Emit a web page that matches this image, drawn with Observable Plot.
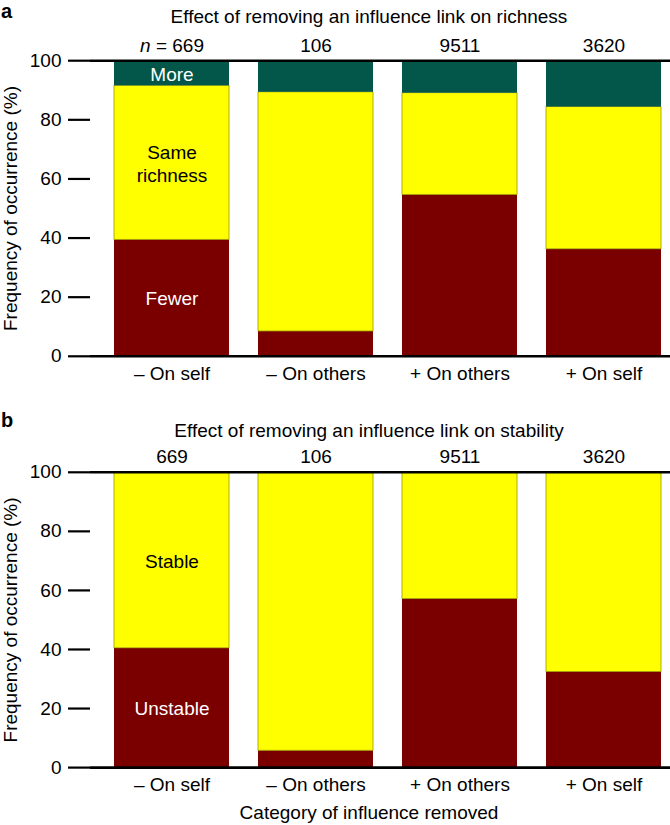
<!DOCTYPE html>
<html><head><meta charset="utf-8">
<script src="https://cdn.jsdelivr.net/npm/d3@7"></script>
<script src="https://cdn.jsdelivr.net/npm/@observablehq/plot@0.6"></script>
<style>
body{margin:0;background:#fff;font-family:"Liberation Sans",Arial,Helvetica,sans-serif;}
#fig{position:relative;width:670px;height:825px;overflow:hidden;background:#fff;}
.pl{position:absolute;left:0;}
.ttl{position:absolute;left:0;width:738px;text-align:center;font-size:19px;line-height:19px;white-space:nowrap;color:#000;}
.tag{position:absolute;left:1px;font-weight:bold;font-size:20px;line-height:1.15;color:#000;}
</style></head><body><div id="fig"></div>
<script>
// ---- data ----
const categories = ["\u2013 On self", "\u2013 On others", "+ On others", "+ On self"];
const nLabelsA = ["n = 669", "106", "9511", "3620"];
const nLabelsB = ["669", "106", "9511", "3620"];
const yTicks = [0, 20, 40, 60, 80, 100];

// panel a: effect on richness (%)
const segsA = ["Fewer", "Same", "More"];
const segTextA = ["Fewer", "Same\nrichness", "More"];
const fewerA = [39.4, 8.4, 54.6, 36.2];
const sameA  = [52.1, 80.9, 34.4, 48.1];
const moreA  = [8.5, 10.7, 11.0, 15.7];

// panel b: effect on stability (%)
const segsB = ["Unstable", "Stable"];
const segTextB = ["Unstable", "Stable"];
const unstableB = [40.4, 5.7, 57.1, 32.4];
const stableB   = [59.6, 94.3, 42.9, 67.6];

const titleA = "Effect of removing an influence link on richness";
const titleB = "Effect of removing an influence link on stability";
const yLabel = "Frequency of occurrence (%)";
const xLabel = "Category of influence removed";

// colours
const cRed = "#7a0000", cYellow = "#ffff00", cGreen = "#03574a";
const segText = {Fewer: "#fff", Same: "#000", More: "#fff", Unstable: "#fff", Stable: "#000"};

// ---- build tables ----
const seriesA = [fewerA, sameA, moreA];
const rowsA = categories.flatMap((c, i) => segsA.map((s, k) => ({cat: c, seg: s, value: seriesA[k][i], label: i === 0 ? segTextA[k] : ""})));
const seriesB = [unstableB, stableB];
const rowsB = categories.flatMap((c, i) => segsB.map((s, k) => ({cat: c, seg: s, value: seriesB[k][i], label: i === 0 ? segTextB[k] : ""})));

const font = "'Liberation Sans', Arial, Helvetica, sans-serif";

function panel(rows, segs, colors, nLabels, height, mTop, mBottom) {
  return Plot.plot({
    width: 670, height,
    marginLeft: 90, marginRight: 0, marginTop: mTop, marginBottom: mBottom,
    style: {fontFamily: font, fontSize: "19px", color: "#000", background: "transparent", overflow: "visible"},
    x: {domain: categories, paddingInner: 0.2, paddingOuter: 0.11, align: 0.725},
    y: {domain: [0, 100]},
    color: {domain: segs, range: colors},
    marks: [
      Plot.barY(rows, {x: "cat", y: "value", fill: "seg",
        stroke: "#9c9a00", strokeWidth: 0.8, strokeOpacity: d => d.seg === "Same" || d.seg === "Stable" ? 1 : 0}),
      Plot.text(rows, Plot.stackY({x: "cat", y: "value", text: "label", fill: d => segText[d.seg], lineHeight: 1.2, fontSize: 19})),
      Plot.ruleY([0, 100], {strokeWidth: 2.6, stroke: "#000"}),
      Plot.axisY({ticks: yTicks, tickSize: 22, tickPadding: 7, strokeWidth: 2.2,
        label: yLabel, labelAnchor: "center", labelArrow: "none", labelOffset: 87}),
      Plot.axisX({anchor: "bottom", tickSize: 0, tickPadding: 10, label: null}),
      Plot.axisX({anchor: "top", tickSize: 0, tickPadding: 9, label: null,
        tickFormat: d => nLabels[categories.indexOf(d)]})
    ]
  });
}

const fig = document.getElementById("fig");

const pa = panel(rowsA, segsA, [cRed, cYellow, cGreen], nLabelsA, 400, 60.2, 44.2);
pa.classList.add("pl"); pa.style.top = "0px";
pa.querySelectorAll("text").forEach(t => {
  if (t.textContent === "n = 669") {
    t.textContent = "";
    const ns = "http://www.w3.org/2000/svg";
    const a = document.createElementNS(ns, "tspan"); a.setAttribute("font-style", "italic"); a.textContent = "n";
    const b = document.createElementNS(ns, "tspan"); b.textContent = " = 669";
    t.appendChild(a); t.appendChild(b);
  }
});
fig.appendChild(pa);

const pb = panel(rowsB, segsB, [cRed, cYellow], nLabelsB, 425, 71.8, 57.9);
pb.classList.add("pl"); pb.style.top = "400px";
fig.appendChild(pb);

function addDiv(cls, text, top) {
  const d = document.createElement("div");
  d.className = cls; d.textContent = text; d.style.top = top + "px";
  fig.appendChild(d);
}
addDiv("tag", "a", 0);
addDiv("tag", "b", 409);
addDiv("ttl", titleA, 7);
addDiv("ttl", titleB, 421);
addDiv("ttl", xLabel, 803);
</script>
</body></html>
